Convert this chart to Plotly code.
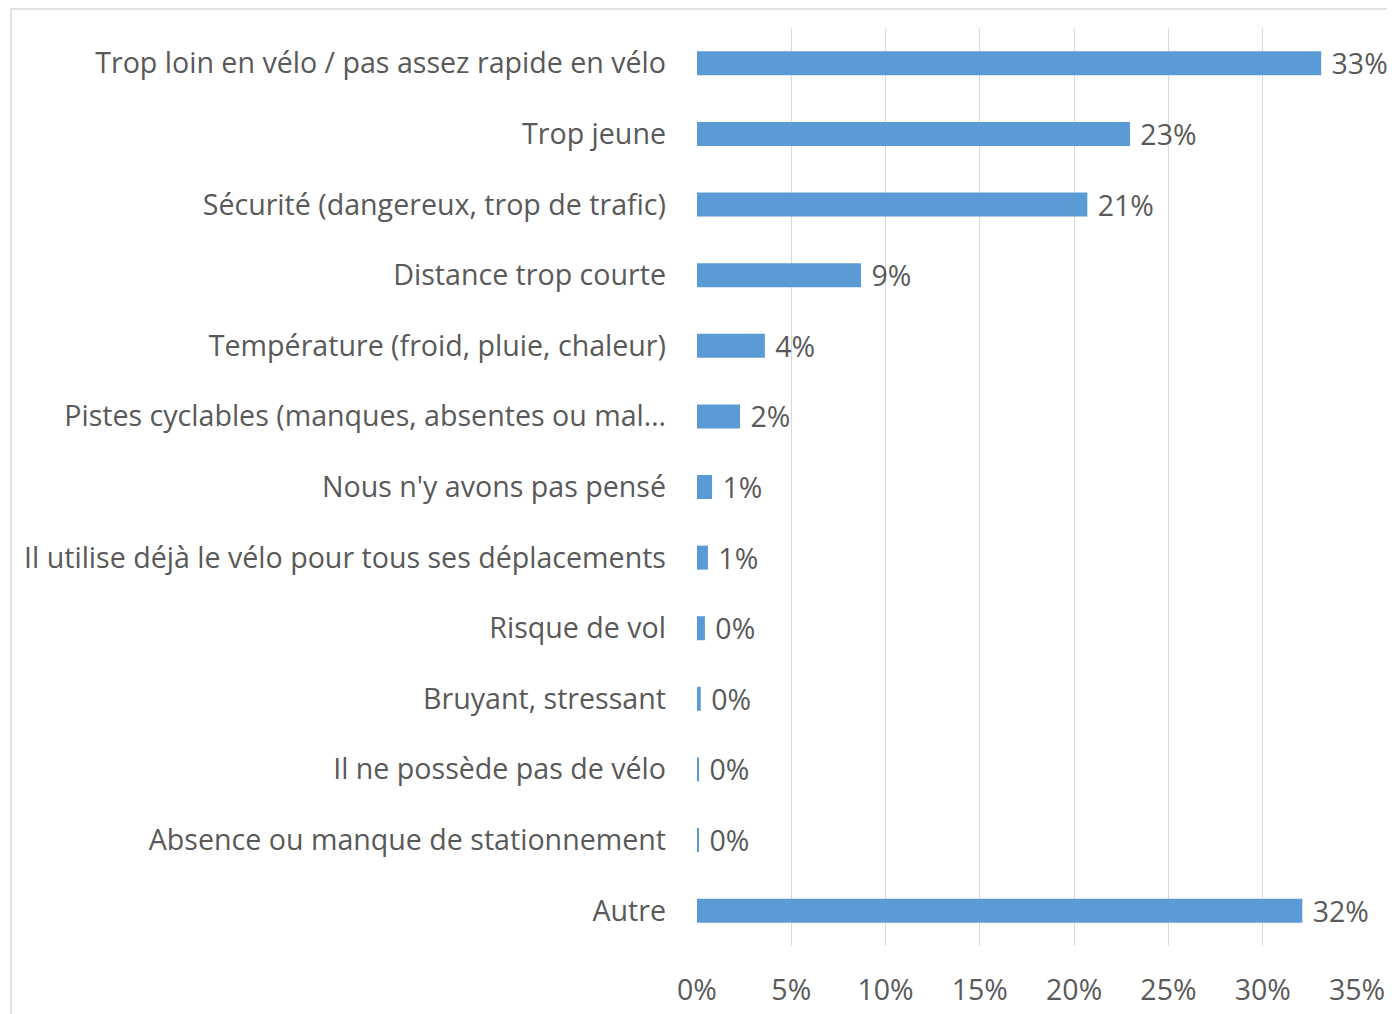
import plotly.graph_objects as go

# Reasons (top to bottom) and share of answers in percent
REASONS = ['Trop loin en vélo / pas assez rapide en vélo',
           'Trop jeune',
           'Sécurité (dangereux, trop de trafic)',
           'Distance trop courte',
           'Température (froid, pluie, chaleur)',
           'Pistes cyclables (manques, absentes ou mal…',
           "Nous n'y avons pas pensé",
           'Il utilise déjà le vélo pour tous ses déplacements',
           'Risque de vol',
           'Bruyant, stressant',
           'Il ne possède pas de vélo',
           'Absence ou manque de stationnement',
           'Autre']
SHARES = [33.1, 22.96, 20.7, 8.7, 3.6, 2.28, 0.8, 0.58, 0.42, 0.2, 0.08, 0.06, 32.1]
X_TICKS = [0, 5, 10, 15, 20, 25, 30, 35]

FONT = 'Open Sans'
TEXT_COLOR = '#595959'
GRID_COLOR = '#D9D9D9'

fig = go.Figure(go.Bar(x=SHARES, y=REASONS, orientation='h', width=0.34,
                       marker=dict(color='#5B9BD5', line=dict(width=0)),
                       texttemplate=' %{x:.0f}%', textposition='outside',
                       constraintext='none',
                       textfont=dict(family=FONT, size=28.5, color=TEXT_COLOR),
                       cliponaxis=False))

# the page body adds 8px around the figure, so the figure is 8px smaller
fig.update_layout(width=1387, height=1006,
                  margin=dict(l=689, r=38, t=20, b=68, autoexpand=False),
                  paper_bgcolor='white', plot_bgcolor='white',
                  showlegend=False,
                  font=dict(family=FONT, size=28.5, color=TEXT_COLOR))

fig.update_xaxes(range=[0, 35], tickvals=X_TICKS, ticktext=[f'{t}%' for t in X_TICKS],
                 showgrid=True, gridcolor=GRID_COLOR, gridwidth=1, automargin=False,
                 zeroline=False, showline=False, ticks='', ticklabelstandoff=24)
fig.update_yaxes(autorange='reversed', showgrid=False, zeroline=False, showline=False,
                 automargin=False, ticks='', ticklabelstandoff=30, tickfont=dict(size=28.6))

# light frame around the chart area, as in the original export
fig.add_shape(type='rect', xref='paper', yref='paper',
              x0=(11 - 697) / 660, x1=(1420 - 697) / 660,
              y0=(946 - 1030) / 918, y1=(946 - 9) / 918,
              line=dict(color=GRID_COLOR, width=1.5), layer='below')

fig.write_html('out.html')
